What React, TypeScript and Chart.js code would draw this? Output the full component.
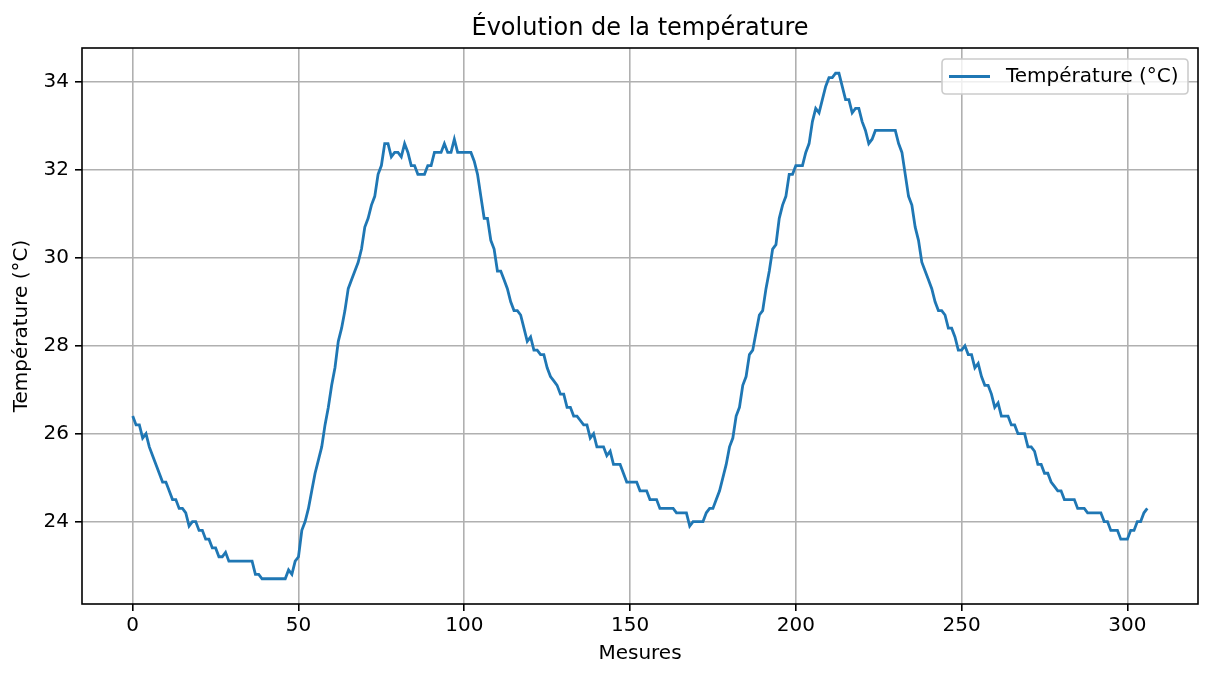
import React, { useEffect, useRef } from "react";
import { Chart, registerables } from "chart.js";

Chart.register(...registerables);

const chartTitle = "Évolution de la température";
const xAxisLabel = "Mesures";
const yAxisLabel = "Température (°C)";
const seriesLabel = "Température (°C)";

const xTicks = [0, 50, 100, 150, 200, 250, 300];
const yTicks = [24, 26, 28, 30, 32, 34];

// Temperature readings, one per measure index (0..306)
const temps0 = [
  26.4, 26.2, 26.2, 25.9, 26.0, 25.7, 25.5, 25.3, 25.1, 24.9,
  24.9, 24.7, 24.5, 24.5, 24.3, 24.3, 24.2, 23.9, 24.0, 24.0,
  23.8, 23.8, 23.6, 23.6, 23.4, 23.4, 23.2, 23.2, 23.3, 23.1,
  23.1, 23.1, 23.1, 23.1, 23.1, 23.1, 23.1, 22.8, 22.8, 22.7,
  22.7, 22.7, 22.7, 22.7, 22.7, 22.7, 22.7, 22.9, 22.8, 23.1,
];
const temps1 = [
  23.2, 23.8, 24.0, 24.3, 24.7, 25.1, 25.4, 25.7, 26.2, 26.6,
  27.1, 27.5, 28.1, 28.4, 28.8, 29.3, 29.5, 29.7, 29.9, 30.2,
  30.7, 30.9, 31.2, 31.4, 31.9, 32.1, 32.6, 32.6, 32.3, 32.4,
  32.4, 32.3, 32.6, 32.4, 32.1, 32.1, 31.9, 31.9, 31.9, 32.1,
  32.1, 32.4, 32.4, 32.4, 32.6, 32.4, 32.4, 32.7, 32.4, 32.4,
];
const temps2 = [
  32.4, 32.4, 32.4, 32.2, 31.9, 31.4, 30.9, 30.9, 30.4, 30.2,
  29.7, 29.7, 29.5, 29.3, 29.0, 28.8, 28.8, 28.7, 28.4, 28.1,
  28.2, 27.9, 27.9, 27.8, 27.8, 27.5, 27.3, 27.2, 27.1, 26.9,
  26.9, 26.6, 26.6, 26.4, 26.4, 26.3, 26.2, 26.2, 25.9, 26.0,
  25.7, 25.7, 25.7, 25.5, 25.6, 25.3, 25.3, 25.3, 25.1, 24.9,
];
const temps3 = [
  24.9, 24.9, 24.9, 24.7, 24.7, 24.7, 24.5, 24.5, 24.5, 24.3,
  24.3, 24.3, 24.3, 24.3, 24.2, 24.2, 24.2, 24.2, 23.9, 24.0,
  24.0, 24.0, 24.0, 24.2, 24.3, 24.3, 24.5, 24.7, 25.0, 25.3,
  25.7, 25.9, 26.4, 26.6, 27.1, 27.3, 27.8, 27.9, 28.3, 28.7,
  28.8, 29.3, 29.7, 30.2, 30.3, 30.9, 31.2, 31.4, 31.9, 31.9,
];
const temps4 = [
  32.1, 32.1, 32.1, 32.4, 32.6, 33.1, 33.4, 33.3, 33.6, 33.9,
  34.1, 34.1, 34.2, 34.2, 33.9, 33.6, 33.6, 33.3, 33.4, 33.4,
  33.1, 32.9, 32.6, 32.7, 32.9, 32.9, 32.9, 32.9, 32.9, 32.9,
  32.9, 32.6, 32.4, 31.9, 31.4, 31.2, 30.7, 30.4, 29.9, 29.7,
  29.5, 29.3, 29.0, 28.8, 28.8, 28.7, 28.4, 28.4, 28.2, 27.9,
];
const temps5 = [
  27.9, 28.0, 27.8, 27.8, 27.5, 27.6, 27.3, 27.1, 27.1, 26.9,
  26.6, 26.7, 26.4, 26.4, 26.4, 26.2, 26.2, 26.0, 26.0, 26.0,
  25.7, 25.7, 25.6, 25.3, 25.3, 25.1, 25.1, 24.9, 24.8, 24.7,
  24.7, 24.5, 24.5, 24.5, 24.5, 24.3, 24.3, 24.3, 24.2, 24.2,
  24.2, 24.2, 24.2, 24.0, 24.0, 23.8, 23.8, 23.8, 23.6, 23.6,
];
const temps6 = [23.6, 23.8, 23.8, 24.0, 24.0, 24.2, 24.3];

const temperatures = [
  ...temps0, ...temps1, ...temps2, ...temps3, ...temps4, ...temps5, ...temps6,
];

const FONT = '"DejaVu Sans", "Liberation Sans", sans-serif';

export default function App() {
  const canvasRef = useRef<HTMLCanvasElement | null>(null);

  useEffect(() => {
    document.body.style.margin = "0";
    const canvas = canvasRef.current;
    if (!canvas) return;

    const points = temperatures.map((v, i) => ({ x: i, y: v }));
    const n = temperatures.length - 1;
    const xPad = n * 0.05;
    const yMinV = Math.min(...temperatures);
    const yMaxV = Math.max(...temperatures);
    const yPad = (yMaxV - yMinV) * 0.05;

    const decorPlugin = {
      id: "decor",
      afterDraw(chart: any) {
        const { ctx, chartArea: a } = chart;
        ctx.save();
        // frame
        ctx.strokeStyle = "#000";
        ctx.lineWidth = 1.6;
        ctx.strokeRect(a.left, a.top, a.right - a.left, a.bottom - a.top);
        // title
        ctx.fillStyle = "#000";
        ctx.font = `24px ${FONT}`;
        ctx.textAlign = "center";
        ctx.textBaseline = "middle";
        ctx.fillText(chartTitle, (a.left + a.right) / 2, 29);
        // legend
        const bx = 942, by = 59, bw = 246, bh = 35, r = 4;
        ctx.beginPath();
        ctx.moveTo(bx + r, by);
        ctx.lineTo(bx + bw - r, by);
        ctx.quadraticCurveTo(bx + bw, by, bx + bw, by + r);
        ctx.lineTo(bx + bw, by + bh - r);
        ctx.quadraticCurveTo(bx + bw, by + bh, bx + bw - r, by + bh);
        ctx.lineTo(bx + r, by + bh);
        ctx.quadraticCurveTo(bx, by + bh, bx, by + bh - r);
        ctx.lineTo(bx, by + r);
        ctx.quadraticCurveTo(bx, by, bx + r, by);
        ctx.closePath();
        ctx.fillStyle = "rgba(255,255,255,0.8)";
        ctx.fill();
        ctx.strokeStyle = "#cccccc";
        ctx.lineWidth = 1.6;
        ctx.stroke();
        ctx.beginPath();
        ctx.moveTo(949, 76.5);
        ctx.lineTo(990, 76.5);
        ctx.strokeStyle = "#1f77b4";
        ctx.lineWidth = 3;
        ctx.stroke();
        ctx.fillStyle = "#000";
        ctx.font = `20px ${FONT}`;
        ctx.textAlign = "left";
        ctx.textBaseline = "middle";
        ctx.fillText(seriesLabel, 1006, 77);
        ctx.restore();
      },
    };

    const chart = new Chart(canvas, {
      type: "line",
      data: {
        datasets: [
          {
            label: seriesLabel,
            data: points,
            borderColor: "#1f77b4",
            backgroundColor: "#1f77b4",
            borderWidth: 2.8,
            pointRadius: 0,
            tension: 0,
            fill: false,
          },
        ],
      },
      options: {
        responsive: false,
        animation: false,
        events: [],
        layout: { padding: { top: 48, right: 14, left: 0, bottom: 0 } },
        plugins: {
          legend: { display: false },
          title: { display: false },
          tooltip: { enabled: false },
        },
        scales: {
          x: {
            type: "linear",
            min: -xPad,
            max: n + xPad,
            afterFit: (s: any) => {
              s.height = 74;
            },
            afterBuildTicks: (s: any) => {
              s.ticks = xTicks.map((v) => ({ value: v }));
            },
            grid: {
              color: "#b0b0b0",
              lineWidth: 1.6,
              tickColor: "#000",
              tickLength: 7,
              tickWidth: 1.6,
            },
            border: { display: false },
            ticks: {
              color: "#000",
              font: { family: FONT, size: 20 },
              padding: 3,
              maxRotation: 0,
              autoSkip: false,
            },
            title: {
              display: true,
              text: xAxisLabel,
              color: "#000",
              font: { family: FONT, size: 20 },
              padding: { top: 0, bottom: 12 },
            },
          },
          y: {
            type: "linear",
            min: yMinV - yPad,
            max: yMaxV + yPad,
            afterFit: (s: any) => {
              s.width = 82;
            },
            afterBuildTicks: (s: any) => {
              s.ticks = yTicks.map((v) => ({ value: v }));
            },
            grid: {
              color: "#b0b0b0",
              lineWidth: 1.6,
              tickColor: "#000",
              tickLength: 7,
              tickWidth: 1.6,
            },
            border: { display: false },
            ticks: {
              color: "#000",
              font: { family: FONT, size: 20 },
              padding: 6,
              autoSkip: false,
            },
            title: {
              display: true,
              text: yAxisLabel,
              color: "#000",
              font: { family: FONT, size: 20 },
              padding: { top: 10, bottom: 0 },
            },
          },
        },
      },
      plugins: [decorPlugin],
    });

    return () => {
      chart.destroy();
    };
  }, []);

  return (
    <div style={{ width: 1212, height: 678, background: "#fff" }}>
      <canvas ref={canvasRef} width={1212} height={678} />
    </div>
  );
}
